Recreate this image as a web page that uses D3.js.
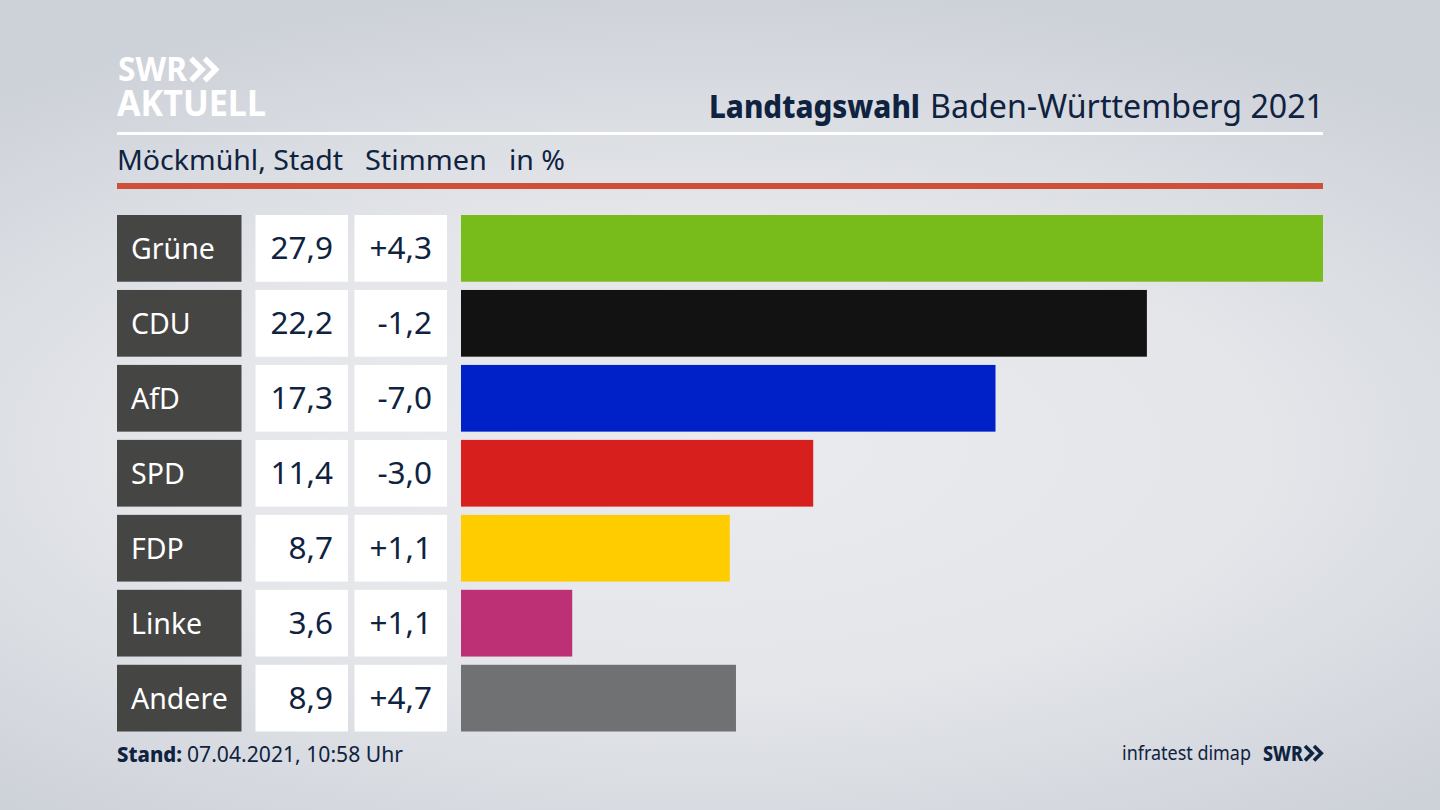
<!DOCTYPE html>
<html>
<head>
<meta charset="utf-8">
<script src="https://cdn.jsdelivr.net/npm/d3@7"></script>
<style>
  html, body { margin: 0; padding: 0; background: #d8dbe0; overflow: hidden; }
  text { font-family: "Noto Sans", sans-serif; }
</style>
</head>
<body>
<script>
// data
const parties = ["Grüne", "CDU", "AfD", "SPD", "FDP", "Linke", "Andere"];
const shares = [27.9, 22.2, 17.3, 11.4, 8.7, 3.6, 8.9];
const changes = ["+4,3", "-1,2", "-7,0", "-3,0", "+1,1", "+1,1", "+4,7"];
const colors = ["#78bc1b", "#121212", "#0021c8", "#d71f1d", "#ffcc00", "#bd3075", "#707172"];

const width = 1440, height = 810;
const left = 117, right = 1323;
const navy = "#0f2340";

const svg = d3.select("body").append("svg")
    .attr("width", width)
    .attr("height", height)
    .style("display", "block");

// background
const defs = svg.append("defs");
const bg = defs.append("radialGradient")
    .attr("id", "bg")
    .attr("gradientUnits", "userSpaceOnUse")
    .attr("cx", 0).attr("cy", 0).attr("r", 1)
    .attr("gradientTransform", "translate(700,450) scale(1100,470)");
bg.append("stop").attr("offset", "0%").attr("stop-color", "#e9ebef");
bg.append("stop").attr("offset", "50%").attr("stop-color", "#e4e6ea");
bg.append("stop").attr("offset", "100%").attr("stop-color", "#cdd1d8");
svg.append("rect").attr("width", width).attr("height", height).attr("fill", "url(#bg)");

// scales
const x = d3.scaleLinear().domain([0, 27.9]).range([461, right]);
const y = d3.scaleBand().domain(parties).range([215, 731.5]).paddingInner(0.11);

// text squeezed to the width it has in the picture
function label(str, px, py, size, weight, len, color) {
    return svg.append("text")
        .attr("x", px).attr("y", py)
        .attr("font-size", size)
        .attr("font-weight", weight)
        .attr("textLength", len)
        .attr("lengthAdjust", "spacingAndGlyphs")
        .attr("fill", color)
        .text(str);
}

function chevrons(g, px, py, h, color, sw) {
    [0, h * 0.62].forEach(dx => {
        g.append("path")
            .attr("d", "M" + (px + dx) + "," + py + "l" + (h * 0.5) + "," + (h / 2) + "l" + (-h * 0.5) + "," + (h / 2))
            .attr("fill", "none")
            .attr("stroke", color)
            .attr("stroke-width", sw);
    });
}

// logo
label("SWR", 118, 81, 34, 700, 69, "#fff");
chevrons(svg.append("g"), 191, 58.5, 22, "#fff", 5.5);
label("AKTUELL", 117, 116, 35, 700, 149, "#fff");

// header
label("Landtagswahl", 709, 118, 32, 800, 211, navy);
label("Baden-Württemberg 2021", 930, 118, 32, 400, 394, navy);

svg.append("rect").attr("x", left).attr("y", 132).attr("width", right - left).attr("height", 3).attr("fill", "#fff");

label("Möckmühl, Stadt", 117, 170, 28, 400, 226, navy);
label("Stimmen", 365, 170, 28, 400, 122, navy);
label("in %", 509, 170, 28, 400, 56, navy);

svg.append("rect").attr("x", left).attr("y", 183).attr("width", right - left).attr("height", 6).attr("fill", "#cf5039");

// rows
const rows = svg.selectAll(".row").data(parties).join("g")
    .attr("class", "row")
    .attr("transform", d => "translate(0," + y(d) + ")");

rows.append("rect").attr("x", left).attr("width", 124.5).attr("height", y.bandwidth()).attr("fill", "#454543");
rows.append("text").attr("x", 131).attr("y", y.bandwidth() / 2 + 10.5)
    .attr("fill", "#fff").attr("font-size", 28.5).text(d => d);

rows.append("rect").attr("x", 255.5).attr("width", 92.5).attr("height", y.bandwidth()).attr("fill", "#fff");
rows.append("text").attr("x", 333).attr("y", y.bandwidth() / 2 + 11)
    .attr("text-anchor", "end").attr("fill", navy).attr("font-size", 31.5)
    .text((d, i) => shares[i].toFixed(1).replace(".", ","));

rows.append("rect").attr("x", 354.5).attr("width", 92.5).attr("height", y.bandwidth()).attr("fill", "#fff");
rows.append("text").attr("x", 432).attr("y", y.bandwidth() / 2 + 11)
    .attr("text-anchor", "end").attr("fill", navy).attr("font-size", 31.5)
    .text((d, i) => changes[i]);

rows.append("rect")
    .attr("x", x(0))
    .attr("width", (d, i) => x(shares[i]) - x(0))
    .attr("height", y.bandwidth())
    .attr("fill", (d, i) => colors[i]);

// footer
label("Stand:", 117, 762, 22, 800, 65, navy);
label("07.04.2021, 10:58 Uhr", 187, 762, 22, 400, 216, navy);

label("infratest dimap", 1122, 760, 20, 400, 129, navy);
label("SWR", 1263, 761, 21, 800, 40, navy);
chevrons(svg.append("g"), 1305, 746, 14.5, navy, 3.6);
</script>
</body>
</html>
